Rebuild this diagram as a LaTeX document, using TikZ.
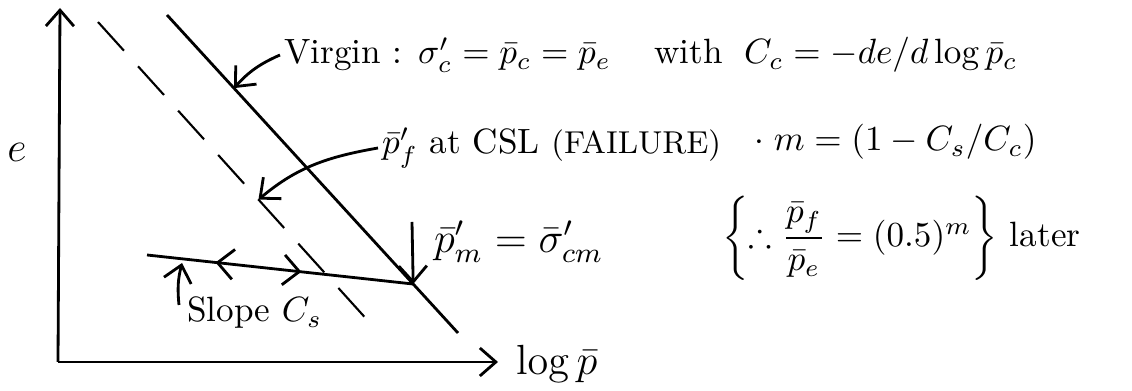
\documentclass[tikz,border=0pt]{standalone}
\usepackage{amsmath}
\usepackage{amssymb}
\usepackage{tikz}
\usetikzlibrary{positioning, calc, arrows.meta, decorations.markings}

\begin{document}
\begin{tikzpicture}[scale=1.0,
    lbl/.style={font=\normalsize, anchor=west, inner sep=1pt},
    barb/.style={-{Straight Barb[length=1.6mm, width=2.8mm]}},
    line/.style={thick}]

    % frame
    \useasboundingbox (0,0) rectangle (11.32,-3.91);

    % axes
    \coordinate (O) at (0.58,-3.62);
    \coordinate (ytop) at (0.60,-0.08);
    \coordinate (xend) at (4.98,-3.62);
    \draw[line, barb] (O) -- (ytop);
    \draw[line, barb] (O) -- (xend);
    \node (evoid) at (0.17,-1.52) {\large $e$};
    \node[lbl, font=\large] (logp) at (5.12,-3.64) {$\log\bar{p}$};

    % virgin line and CSL (dashed)
    \coordinate (vA) at (1.67,-0.15);
    \coordinate (vB) at (4.58,-3.33);
    \coordinate (M) at ($(vA)!0.846!(vB)$);
    \draw[line] (vA) -- (vB);
    \coordinate (cA) at (0.98,-0.22);
    \coordinate (cB) at (3.70,-3.23);
    \draw[semithick, dash pattern=on 11pt off 6pt] (cA) -- (cB);

    % unloading / reloading line
    \coordinate (uA) at (1.47,-2.55);
    \draw[line, decoration={markings,
        mark=at position 0.33 with {\arrow{Straight Barb[length=1.6mm, width=3mm, reversed]}},
        mark=at position 0.58 with {\arrow{Straight Barb[length=1.6mm, width=3mm]}}},
        postaction={decorate}] (uA) -- (M);

    % labels
    \node[lbl] (tVirgin) at (2.80,-0.55) {Virgin : $\sigma'_c = \bar{p}_c = \bar{p}_e$};
    \node[lbl] (tWith) at (6.50,-0.52) {with};
    \node[lbl] (tCc) at (7.40,-0.55) {$C_c = -de/d\log\bar{p}_c$};
    \node[lbl] (tCSL) at (3.78,-1.48) {$\bar{p}'_f$ at CSL {\small(FAILURE)}};
    \node[lbl] (tM) at (7.50,-1.42) {$\cdot\; m = (1 - C_s/C_c)$};
    \node[lbl, font=\large] (tPm) at (4.30,-2.42) {$\bar{p}'_m = \bar{\sigma}'_{cm}$};
    \node[lbl] (tRatio) at (7.18,-2.38) {$\left\{\therefore\dfrac{\bar{p}_f}{\bar{p}_e} = (0.5)^m\right\}$ later};
    \node[lbl] (tSlope) at (1.83,-3.13) {Slope $C_s$};

    % pointers
    \coordinate (pV) at ($(vA)!0.23!(vB)$);
    \draw[line, barb] (tVirgin.west) to[bend right=12] (pV);
    \coordinate (pC) at ($(cA)!0.59!(cB)$);
    \draw[line, barb] (tCSL.west) to[out=190, in=40] (pC);
    \draw[line, barb] (4.12,-2.22) -- (M);
    \coordinate (pS) at (1.82,-2.63);
    \draw[line, barb] (tSlope.west) ++(-0.04,0.08) to[bend left=10] (pS);

\end{tikzpicture}
\end{document}
